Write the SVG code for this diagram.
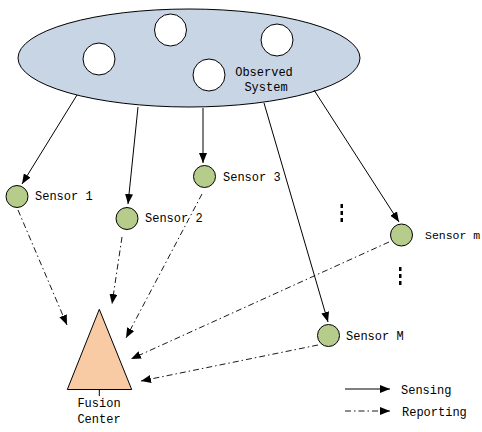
<svg xmlns="http://www.w3.org/2000/svg" width="482" height="432" viewBox="0 0 482 432">
<style>
text{font-family:"Liberation Mono","DejaVu Sans Mono",monospace;font-size:12px;fill:#000}
.obj{fill:#fff;stroke:#000;stroke-width:1}
.sen{fill:#B6CC8A;stroke:#000;stroke-width:1}
.s{stroke:#000;stroke-width:1;fill:none;marker-end:url(#ah)}
.r{stroke:#000;stroke-width:0.9;fill:none;stroke-dasharray:6 3 1.5 3;marker-end:url(#ah)}
</style>
<defs>
<marker id="ah" viewBox="0 0 10 8" refX="10" refY="4" markerWidth="10" markerHeight="8" markerUnits="userSpaceOnUse" orient="auto">
<path d="M0,0 L10,4 L0,8 Z" fill="#000"/>
</marker>
</defs>
<rect width="482" height="432" fill="#fff"/>
<g id="observed-system">
<ellipse cx="189" cy="58" rx="171" ry="49" fill="#C8D5E5" stroke="#000" stroke-width="1"/>
<circle class="obj" cx="99" cy="59" r="16"/>
<circle class="obj" cx="170.5" cy="30" r="16"/>
<circle class="obj" cx="277" cy="40" r="16"/>
<circle class="obj" cx="209" cy="75" r="16"/>
<text x="264" y="76" text-anchor="middle">Observed</text>
<text x="266" y="91" text-anchor="middle">System</text>
</g>
<g id="connectors">
<line class="s" x1="77" y1="95" x2="22" y2="184"/>
<line class="s" x1="138" y1="107" x2="128" y2="204"/>
<line class="s" x1="203" y1="108" x2="203" y2="163"/>
<line class="s" x1="264" y1="103" x2="328" y2="322"/>
<line class="s" x1="314" y1="90" x2="399" y2="222"/>
<line class="r" x1="18" y1="210" x2="67" y2="325"/>
<line class="r" x1="122" y1="237" x2="112" y2="304"/>
<line class="r" x1="202" y1="194" x2="126" y2="338"/>
<line class="r" x1="389" y1="242" x2="131" y2="359"/>
<line class="r" x1="318" y1="345" x2="141" y2="381"/>
</g>
<g id="sensor-1"><circle class="sen" cx="17" cy="196.5" r="11"/><text x="35" y="200">Sensor 1</text></g>
<g id="sensor-2"><circle class="sen" cx="127" cy="218.5" r="11"/><text x="145" y="222">Sensor 2</text></g>
<g id="sensor-3"><circle class="sen" cx="204.5" cy="176.5" r="11"/><text x="223" y="181">Sensor 3</text></g>
<g id="sensor-m"><circle class="sen" cx="401.5" cy="235" r="11"/><text x="425" y="239" style="font-size:11.5px">Sensor m</text></g>
<g id="sensor-M"><circle class="sen" cx="328.5" cy="335.5" r="11"/><text x="346" y="340">Sensor M</text></g>
<g id="dots">
<rect x="340.5" y="204" width="2.5" height="4"/><rect x="340.5" y="211" width="2.5" height="4"/><rect x="340.5" y="218" width="2.5" height="4"/>
<rect x="399" y="267" width="2.5" height="4"/><rect x="399" y="274" width="2.5" height="4"/><rect x="399" y="281" width="2.5" height="4"/>
</g>
<g id="fusion-center">
<polygon points="99.3,309.3 67.3,389.5 131.7,389.5" fill="#F8CBA5" stroke="#000" stroke-width="1"/>
<line x1="99.3" y1="389.5" x2="99.3" y2="396" stroke="#000" stroke-width="1"/>
<text x="99" y="407" text-anchor="middle">Fusion</text>
<text x="99" y="423" text-anchor="middle">Center</text>
</g>
<g id="legend">
<line class="s" x1="345" y1="389" x2="390" y2="389"/>
<text x="401" y="394">Sensing</text>
<line class="r" x1="345" y1="411" x2="390" y2="411"/>
<text x="402" y="416">Reporting</text>
</g>
</svg>
